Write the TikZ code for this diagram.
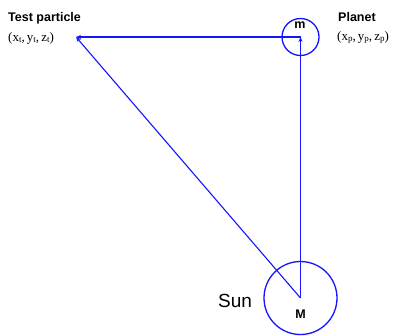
\documentclass[tikz,border=0pt]{standalone}
\usepackage{fontspec}
\setmainfont{Liberation Serif}
\setsansfont{Liberation Sans}
\usetikzlibrary{arrows.meta}
\definecolor{lineblue}{RGB}{20,20,255}
\newcommand{\lowsub}[1]{\raisebox{-0.25ex}{\fontsize{9}{10}\selectfont #1}}
\begin{document}
\begin{tikzpicture}[x=1pt,y=-1pt,
  conn/.style={draw=lineblue,line width=1.1pt,-{Stealth[length=5pt,width=4pt]}},
  body/.style={circle,draw=lineblue,line width=1.3pt,inner sep=0pt},
  title/.style={font=\sffamily\bfseries\fontsize{12.5}{14}\selectfont,anchor=base west,inner sep=0pt},
  coords/.style={font=\fontsize{13}{14}\selectfont,anchor=base west,inner sep=0pt},
  mass/.style={font=\sffamily\bfseries\fontsize{12.5}{14}\selectfont,anchor=base,inner sep=0pt}]
\useasboundingbox (0,0) rectangle (393,335);
\coordinate (S) at (300.5,298);
\coordinate (P) at (300.5,37);
\coordinate (T) at (76,37);
\node[body,minimum size=73pt] (sun) at (300.5,298) {};
\node[body,minimum size=37pt] (planet) at (300.5,37) {};
\draw[conn] (S) -- (P);
\draw[conn] (P) -- (T);
\draw[conn] (S) -- (T);
\node[title] (tplabel) at (8,21.5) {Test particle};
\node[coords] (tpcoords) at (8,41) {(x\lowsub{t},\,y\lowsub{t},\,z\lowsub{t})};
\node[title] (plabel) at (338,21.5) {Planet};
\node[coords] (pcoords) at (337,40.5) {(x\lowsub{p},\,y\lowsub{p},\,z\lowsub{p})};
\node[mass] (mlabel) at (300,28) {m};
\node[mass] (Mlabel) at (300.5,318.5) {M};
\node[font=\sffamily\fontsize{19}{22}\selectfont,anchor=base west,inner sep=0pt] (sunlabel) at (218,307) {Sun};
\end{tikzpicture}
\end{document}
